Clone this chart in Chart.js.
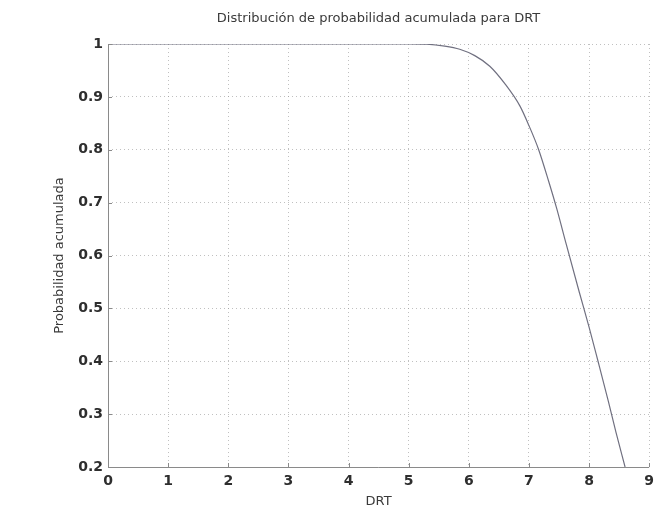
<!DOCTYPE html>
<html>
<head>
<meta charset="utf-8">
<title>Distribución de probabilidad acumulada para DRT</title>
<script src="https://cdn.jsdelivr.net/npm/chart.js@4.4.1/dist/chart.umd.min.js"></script>
<style>
  html, body { margin: 0; padding: 0; background: #fff; }
  .canvas { position: relative; width: 660px; height: 510px; }
</style>
</head>
<body>
<div class="canvas">
  <canvas id="drtChart" role="img" aria-label="Line Chart"></canvas>
</div>
<script>
// DRT values (x) and the cumulative probability at each one (y)
const drtValues = [0, 1, 2, 3, 4, 5, 5.3, 5.6, 5.85, 6.1, 6.35, 6.6, 6.85, 7.0, 7.16, 7.33, 7.46, 7.62, 7.84, 8.0, 8.15, 8.32, 8.45, 8.6];
const probValues = [1, 1, 1, 1, 1, 1, 0.9995, 0.996, 0.99, 0.978, 0.958, 0.925, 0.883, 0.846, 0.801, 0.74, 0.69, 0.622, 0.53, 0.465, 0.4, 0.325, 0.265, 0.2];

const xTicks = [0, 1, 2, 3, 4, 5, 6, 7, 8, 9];
const yTicks = [0.2, 0.3, 0.4, 0.5, 0.6, 0.7, 0.8, 0.9, 1];

const points = drtValues.map((x, i) => ({ x: x, y: probValues[i] }));

const fontFamily = '"DejaVu Sans", "Liberation Sans", Arial, sans-serif';
const gridColor = 'rgba(150, 150, 150, 0.6)';
const axisColor = '#8a8a8a';

// solid left/bottom axis lines plus short inward tick marks
const axisLines = {
  id: 'axisLines',
  afterDatasetsDraw: chart => {
    const { ctx, chartArea, scales } = chart;
    ctx.save();
    ctx.strokeStyle = axisColor;
    ctx.lineWidth = 1;
    ctx.setLineDash([]);
    ctx.beginPath();
    ctx.moveTo(chartArea.left + 0.5, chartArea.top);
    ctx.lineTo(chartArea.left + 0.5, chartArea.bottom + 0.5);
    ctx.lineTo(chartArea.right, chartArea.bottom + 0.5);
    xTicks.forEach(v => {
      const px = Math.round(scales.x.getPixelForValue(v)) + 0.5;
      ctx.moveTo(px, chartArea.bottom);
      ctx.lineTo(px, chartArea.bottom - 4);
    });
    yTicks.forEach(v => {
      const py = Math.round(scales.y.getPixelForValue(v)) + 0.5;
      ctx.moveTo(chartArea.left, py);
      ctx.lineTo(chartArea.left + 4, py);
    });
    ctx.stroke();
    ctx.restore();
  },
};

const ctx = document.getElementById('drtChart');

new Chart(ctx, {
  type: 'line',
  data: {
    datasets: [
      {
        label: 'Probabilidad acumulada',
        data: points,
        borderColor: '#707080',
        borderWidth: 1.2,
        pointRadius: 0,
        cubicInterpolationMode: 'monotone',
        fill: false,
      },
    ],
  },
  options: {
    responsive: true,
    maintainAspectRatio: false,
    animation: false,
    layout: {
      padding: { left: 0, right: 7, top: 0, bottom: 0 },
    },
    plugins: {
      legend: { display: false },
      tooltip: { enabled: false },
      title: {
        display: true,
        fullSize: false,
        text: 'Distribución de probabilidad acumulada para DRT',
        color: '#3a3a3a',
        font: { family: fontFamily, size: 13, weight: 'normal' },
        padding: { top: 11, bottom: 17.4 },
      },
    },
    scales: {
      x: {
        type: 'linear',
        min: 0,
        max: 9,
        afterBuildTicks: scale => {
          scale.ticks = xTicks.map(v => ({ value: v }));
        },
        afterFit: scale => {
          scale.height = 43;
        },
        border: { display: false, dash: [1, 3] },
        grid: {
          color: gridColor,
          drawTicks: false,
        },
        ticks: {
          color: '#2e2e2e',
          padding: 6,
          font: { family: fontFamily, size: 14, weight: 'bold' },
          callback: v => String(v),
        },
        title: {
          display: true,
          text: 'DRT',
          color: '#3a3a3a',
          font: { family: fontFamily, size: 13 },
          padding: { top: 0, bottom: 1 },
        },
      },
      y: {
        type: 'linear',
        min: 0.2,
        max: 1,
        afterBuildTicks: scale => {
          scale.ticks = yTicks.map(v => ({ value: v }));
        },
        afterFit: scale => {
          scale.width = 108;
        },
        border: { display: false, dash: [1, 3] },
        grid: {
          color: gridColor,
          drawTicks: false,
        },
        ticks: {
          color: '#2e2e2e',
          padding: 5,
          font: { family: fontFamily, size: 14, weight: 'bold' },
          callback: v => (Math.round(v * 10) === 10 ? '1' : (Math.round(v * 10) / 10).toFixed(1)),
        },
        title: {
          display: true,
          text: 'Probabilidad acumulada',
          color: '#3a3a3a',
          font: { family: fontFamily, size: 13 },
          padding: { top: 52, bottom: 0 },
        },
      },
    },
  },
  plugins: [axisLines],
});
</script>
</body>
</html>
